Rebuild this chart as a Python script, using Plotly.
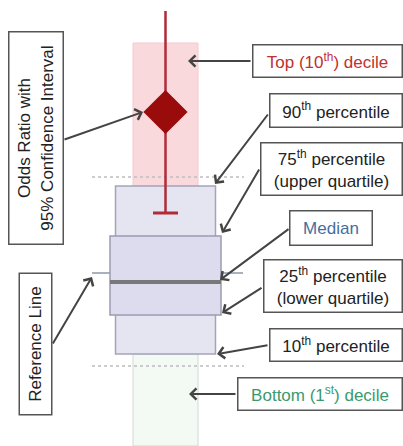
import plotly.graph_objects as go

# Summary statistics on a common value scale (0 = bottom of the panel)
stat_names = ["10th", "25th", "Median", "75th", "90th"]
stat_values = [92, 131, 164, 210, 260]
reference_value = 173
odds_ratio = 334
ci_bounds = [233, 435]
top_decile_upper = 403
bottom_decile_lower = 0
decile_cutoffs = [80, 269]

p10, p25, med, p75, p90 = stat_values

W, H = 403, 446
CX = 165.5            # centre of the column
FONT = "Liberation Sans, Arial, sans-serif"

fig = go.Figure()
shapes = []

def rect(x0, x1, y0, y1, fill, line, lw=1.5):
    shapes.append(dict(type="rect", xref="x", yref="y", x0=x0, x1=x1, y0=y0, y1=y1,
                       fillcolor=fill, line=dict(color=line, width=lw), layer="below"))

def hline(x0, x1, y, color, width, dash="solid"):
    shapes.append(dict(type="line", xref="x", yref="y", x0=x0, x1=x1, y0=y, y1=y,
                       line=dict(color=color, width=width, dash=dash), layer="below"))

# decile bands
rect(CX - 32.5, CX + 32.5, bottom_decile_lower, p10, "#f3faf4", "#d3d8d3", 1)
rect(CX - 32.5, CX + 32.5, p90, top_decile_upper, "#fad9dd", "#f5c9cf", 1)
# decile cut-offs
for c in decile_cutoffs:
    hline(92, 244, c, "#bdbdbd", 1.5, "dot")
# reference line
hline(92, 243, reference_value, "#8b9aa8", 1.5)
# 10th-90th and interquartile boxes
rect(CX - 50, CX + 50, p10, p90, "#e5e5f2", "#a4a4b9", 1.5)
rect(CX - 55.5, CX + 55.5, p25, p75, "#dddcee", "#9a9ab2", 1.5)
# median
hline(CX - 55.5, CX + 55.5, med, "#787878", 4)

# confidence interval and odds ratio
fig.add_trace(go.Scatter(x=[CX, CX], y=ci_bounds, mode="lines",
                         line=dict(color="#b02a37", width=2.5), hoverinfo="skip"))
fig.add_trace(go.Scatter(x=[CX - 12.5, CX + 12.5], y=[ci_bounds[0]] * 2, mode="lines",
                         line=dict(color="#b02a37", width=3), hoverinfo="skip"))
fig.add_trace(go.Scatter(x=[CX], y=[odds_ratio], mode="markers",
                         marker=dict(symbol="diamond", size=34, color="#9a0b0b",
                                     line=dict(width=0)), hoverinfo="skip"))

annotations = []

def label(text, x, y, w, h, color="#222222", angle=0):
    annotations.append(dict(text=text, x=x, y=y, xref="x", yref="y", showarrow=False,
                            xanchor="center", yanchor="middle", width=w, height=h,
                            textangle=angle, align="center", valign="middle",
                            bgcolor="white", bordercolor="#555555", borderwidth=1.5,
                            borderpad=0, font=dict(family=FONT, size=17, color=color)))

def arrow(tail, head):
    annotations.append(dict(text="", x=head[0], y=head[1], ax=tail[0], ay=tail[1],
                            xref="x", yref="y", axref="x", ayref="y", showarrow=True,
                            arrowhead=4, arrowsize=1.1, arrowwidth=2, arrowcolor="#444444"))

# right-hand labels
label("Top (10<sup>th</sup>) decile", 327, 385.5, 148, 31, "#c0302f")
arrow((252, 385), (188, 385))
label("90<sup>th</sup> percentile", 335.5, 336, 131, 32)
arrow((269, 333), (215, p90 + 2))
label("75<sup>th</sup> percentile<br>(upper quartile)", 331, 277.5, 140, 51)
arrow((260, 278), (222, p75 + 3))
label("Median", 330.5, 218.5, 81, 33, "#3f6f9f")
arrow((290, 218), (220, med + 2))
label("25<sup>th</sup> percentile<br>(lower quartile)", 332.5, 160.5, 137, 51)
arrow((263, 159), (222, p25 + 2))
label("10<sup>th</sup> percentile", 335.5, 101.5, 131, 31)
arrow((269, 101), (217, p10))
label("Bottom (1<sup>st</sup>) decile", 319.5, 52.5, 163, 31, "#3a9a6c")
arrow((237, 52), (189, 52))

# left-hand labels
label("Odds Ratio with<br>95% Confidence Interval", 35.5, 307.5, 211, 53, angle=-90)
arrow((63, 306), (143, odds_ratio))
label("Reference Line", 35.5, 102, 140, 31, angle=-90)
arrow((52, 101), (92, reference_value - 4))

fig.update_layout(
    width=W, height=H, margin=dict(l=0, r=0, t=0, b=0),
    paper_bgcolor="white", plot_bgcolor="white", showlegend=False,
    xaxis=dict(range=[0, W], visible=False, fixedrange=True),
    yaxis=dict(range=[0, H], visible=False, fixedrange=True),
    shapes=shapes, annotations=annotations,
)

fig.write_html("out.html")
